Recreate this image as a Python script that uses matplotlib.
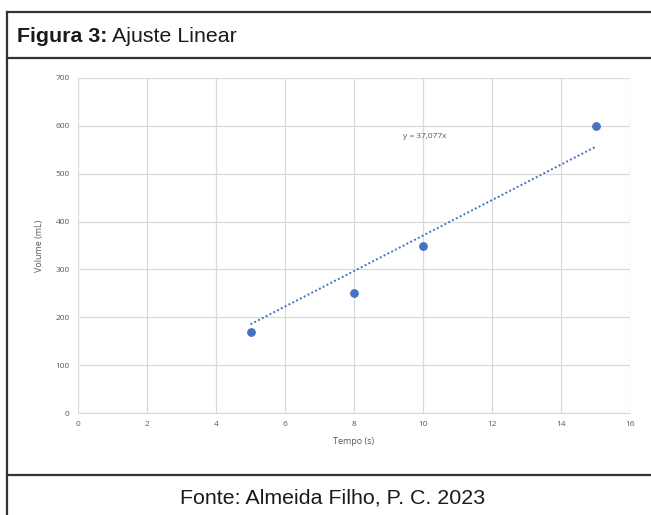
import numpy as np
import matplotlib.pyplot as plt
from matplotlib.lines import Line2D

# dados
tempo = [5, 8, 10, 15]
volume = [170, 250, 350, 600]
slope = 37.077
x_ticks = np.arange(0, 17, 2)
y_ticks = np.arange(0, 701, 100)

plt.rcParams['font.family'] = ['Open Sans', 'DejaVu Sans']

fig = plt.figure(figsize=(6.51, 5.15), dpi=100)
W, H = 651, 515

# moldura da figura (tabela)
def hline(y, x0=7, x1=651, lw=1.6):
    fig.add_artist(Line2D([x0 / W, x1 / W], [1 - y / H, 1 - y / H],
                          color='#333333', lw=lw, transform=fig.transFigure))

hline(12)
hline(58)
hline(475)
fig.add_artist(Line2D([7 / W, 7 / W], [1 - 12 / H, 0], color='#333333',
                      lw=1.6, transform=fig.transFigure))

t1 = fig.text(17 / W, 1 - 36 / H, 'Figura 3:', fontsize=15.4, fontweight='bold',
              family='Liberation Sans', va='center', ha='left', color='#1a1a1a')
fig.canvas.draw()
bb = t1.get_window_extent()
fig.text((bb.x1 + 5) / W, 1 - 36 / H, 'Ajuste Linear', fontsize=15.4,
         family='Liberation Sans', va='center', ha='left', color='#1a1a1a')
fig.text(333 / W, 1 - 498 / H, 'Fonte: Almeida Filho, P. C. 2023', fontsize=15.4,
         family='Liberation Sans', va='center', ha='center', color='#1a1a1a')

ax = fig.add_axes([78 / W, (H - 413) / H, (630 - 78) / W, (413 - 78) / H])

# linha de tendência (y = a*x)
xt = np.array([min(tempo), max(tempo)])
ax.plot(xt, slope * xt, linestyle=(0, (1, 1.2)), color='#4472C4', lw=1.4, zorder=3)
ax.scatter(tempo, volume, s=28, color='#4472C4', zorder=4)

ax.text(10.05, 578, 'y = 37,077x', fontsize=6, color='#595959', ha='center', va='center')

ax.set_xlim(0, 16)
ax.set_ylim(0, 700)
ax.set_xticks(x_ticks)
ax.set_yticks(y_ticks)
ax.grid(True, color='#d9d9d9', lw=0.9)
ax.set_axisbelow(True)
for side in ['top', 'right', 'left']:
    ax.spines[side].set_visible(False)
ax.spines['bottom'].set_color('#d9d9d9')
ax.tick_params(length=0, labelsize=6, labelcolor='#595959', pad=6)
ax.set_xlabel('Tempo (s)', fontsize=6.5, color='#595959', labelpad=6)
ax.set_ylabel('Volume (mL)', fontsize=6.5, color='#595959', labelpad=8)

fig.savefig('out.png', dpi=100)
